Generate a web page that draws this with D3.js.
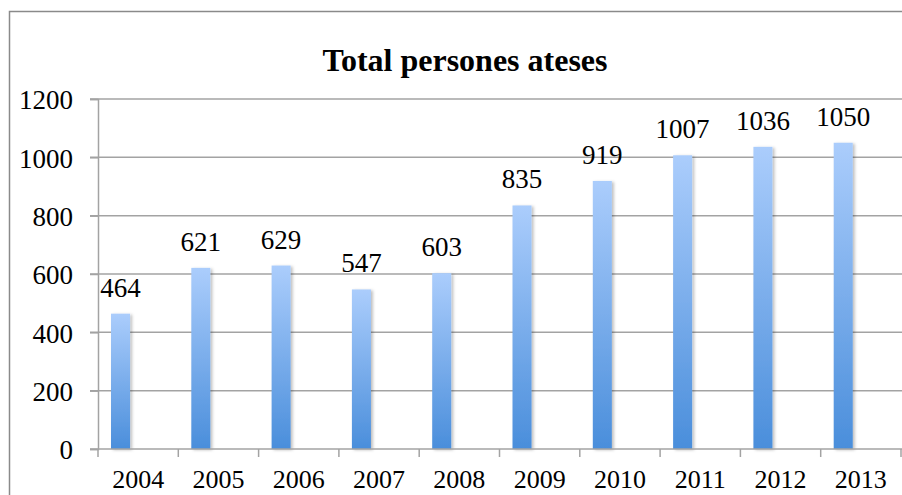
<!DOCTYPE html>
<html>
<head>
<meta charset="utf-8">
<script src="https://cdn.jsdelivr.net/npm/d3@7"></script>
<style>
  body { margin: 0; background: #fff; }
  svg { display: block; }
  text { font-family: "Liberation Serif", "DejaVu Serif", serif; fill: #000; }
</style>
</head>
<body>
<div id="chart"></div>
<script>
// Data
const years = ["2004", "2005", "2006", "2007", "2008", "2009", "2010", "2011", "2012", "2013"];
const totals = [464, 621, 629, 547, 603, 835, 919, 1007, 1036, 1050];
const yTicks = [0, 200, 400, 600, 800, 1000, 1200];

const width = 902, height = 495;

const svg = d3.select("#chart")
  .append("svg")
  .attr("width", width)
  .attr("height", height);

// gradient + shadow for the bars
const defs = svg.append("defs");
const grad = defs.append("linearGradient")
  .attr("id", "barGrad")
  .attr("x1", 0).attr("y1", 0).attr("x2", 0).attr("y2", 1);
grad.append("stop").attr("offset", "0%").attr("stop-color", "#abcdfc");
grad.append("stop").attr("offset", "100%").attr("stop-color", "#4a8edb");

const shadow = defs.append("filter")
  .attr("id", "barShadow")
  .attr("x", "-30%").attr("y", "-5%").attr("width", "160%").attr("height", "110%");
shadow.append("feDropShadow")
  .attr("dx", 2).attr("dy", 1).attr("stdDeviation", 1.5)
  .attr("flood-color", "#000").attr("flood-opacity", 0.25);

// outer chart frame (runs off the right and bottom edges)
svg.append("path")
  .attr("d", `M9.5,${height + 2} V11.5 H${width + 2}`)
  .attr("fill", "none")
  .attr("stroke", "#8a8a8a")
  .attr("stroke-width", 1.5);

// scales
const x = d3.scaleBand()
  .domain(years)
  .range([98, 901])
  .padding(0);

const y = d3.scaleLinear()
  .domain([0, 1200])
  .range([449, 99]);

// title
svg.append("text")
  .attr("x", 465)
  .attr("y", 71)
  .attr("text-anchor", "middle")
  .attr("font-weight", "bold")
  .attr("font-size", "32px")
  .text("Total persones ateses");

// horizontal gridlines
const grid = svg.append("g");
grid.selectAll("line")
  .data(yTicks.filter(d => d > 0))
  .enter()
  .append("line")
  .attr("x1", 90)
  .attr("x2", width)
  .attr("y1", d => y(d))
  .attr("y2", d => y(d))
  .attr("stroke", "#a3a3a3")
  .attr("stroke-width", 1.5);

// y axis
const yAxis = svg.append("g")
  .attr("transform", "translate(98,0)")
  .call(d3.axisLeft(y).tickValues(yTicks).tickFormat(d3.format("d")).tickSize(8).tickPadding(17));
yAxis.select(".domain").attr("stroke", "#a3a3a3").attr("stroke-width", 1.5);
yAxis.selectAll(".tick line").attr("stroke", "#a3a3a3").attr("stroke-width", 1.5);
yAxis.selectAll(".tick text")
  .attr("font-size", "27px")
  .attr("font-family", "Liberation Serif, serif")
  .attr("dy", "0.36em");

// bars
const barX = d => x(d) + x.bandwidth() * 0.162;
const barW = x.bandwidth() * 0.237;

svg.append("g")
  .selectAll("rect")
  .data(years)
  .enter()
  .append("rect")
  .attr("x", d => barX(d))
  .attr("y", (d, i) => y(totals[i]))
  .attr("width", barW)
  .attr("height", (d, i) => y(0) - y(totals[i]))
  .attr("fill", "url(#barGrad)")
  .attr("filter", "url(#barShadow)");

// x axis
const xAxis = svg.append("g")
  .attr("transform", `translate(0,${y(0)})`)
  .call(d3.axisBottom(x).tickSize(0));
xAxis.select(".domain").remove();
xAxis.append("line")
  .attr("x1", 90).attr("x2", width)
  .attr("stroke", "#a3a3a3").attr("stroke-width", 1.5);
xAxis.selectAll(".bound")
  .data(years.concat(["end"]))
  .enter()
  .append("line")
  .attr("class", "bound")
  .attr("x1", (d, i) => x.range()[0] + i * x.bandwidth())
  .attr("x2", (d, i) => x.range()[0] + i * x.bandwidth())
  .attr("y1", 0).attr("y2", 8)
  .attr("stroke", "#a3a3a3").attr("stroke-width", 1.5);
xAxis.selectAll(".tick text")
  .attr("font-size", "26px")
  .attr("font-family", "Liberation Serif, serif")
  .attr("y", 39)
  .attr("dy", 0);

// value labels above bars
svg.append("g")
  .selectAll("text")
  .data(years)
  .enter()
  .append("text")
  .attr("x", d => barX(d) + barW / 2)
  .attr("y", (d, i) => y(totals[i]) - 17)
  .attr("text-anchor", "middle")
  .attr("font-size", "27px")
  .text((d, i) => totals[i]);
</script>
</body>
</html>
